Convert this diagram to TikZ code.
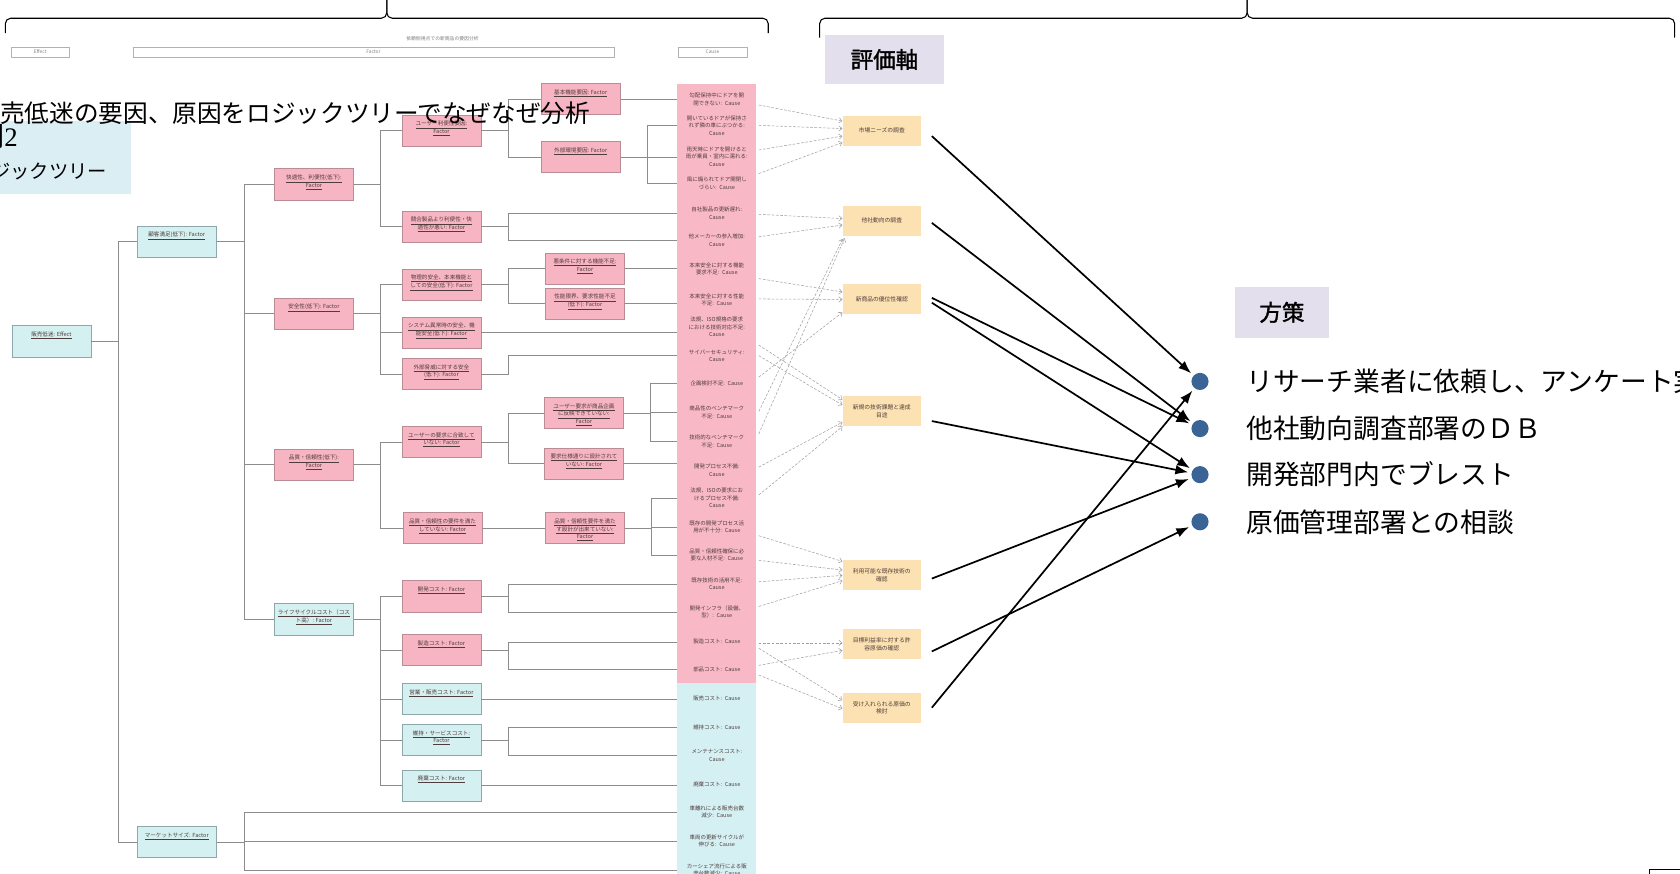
\documentclass[tikz,border=0pt]{standalone}
\usepackage{fontspec}
\setmainfont{Noto Sans CJK JP}
\newfontfamily\numserif{Liberation Serif}
\newfontfamily\tagfont[AutoFakeBold=1.6]{Noto Sans CJK JP}
\usetikzlibrary{arrows.meta,calc}

\definecolor{pinkbox}{RGB}{247,180,194}
\definecolor{pinkedge}{RGB}{185,140,150}
\definecolor{bluebox}{RGB}{212,240,240}
\definecolor{blueedge}{RGB}{140,168,172}
\definecolor{colpink}{RGB}{248,184,198}
\definecolor{colblue}{RGB}{212,240,243}
\definecolor{evalfill}{RGB}{252,226,178}
\definecolor{tagfill}{RGB}{228,223,236}
\definecolor{titlefill}{RGB}{218,238,243}
\definecolor{dotblue}{RGB}{58,100,150}
\definecolor{treeline}{RGB}{140,140,140}
\definecolor{smalltext}{RGB}{80,60,60}

% box text: lines set from the top of the box, underlined
\newcommand{\bxt}[1]{\parbox[c][29pt][t]{72pt}{\centering\fontsize{5.2}{7.2}\selectfont\rule{0pt}{10pt}#1}}
\newcommand{\uln}[1]{\underline{#1}}

\begin{document}
\begin{tikzpicture}[x=1pt,y=-1pt,
  tbox/.style={line width=0.5pt, minimum width=74pt, minimum height=29pt, inner sep=0pt, text=smalltext},
  pbox/.style={tbox, fill=pinkbox, draw=pinkedge},
  bbox/.style={tbox, fill=bluebox, draw=blueedge},
  cause/.style={text width=66pt, inner xsep=4pt, inner ysep=0pt, align=center, text=smalltext, font=\fontsize{5.1}{7}\selectfont},
  evalbox/.style={fill=evalfill, minimum width=73pt, minimum height=28pt, inner sep=1pt, align=center, text=smalltext, font=\fontsize{5.4}{7.2}\selectfont},
  tline/.style={draw=treeline, line width=0.55pt},
  dasharrow/.style={draw=gray!75, line width=0.5pt, dash pattern=on 2.5pt off 1.5pt, -{Straight Barb[length=3pt,width=5pt]}},
  bigarrow/.style={line width=1.6pt, -{Latex[length=12pt,width=9pt]}, shorten >=3pt},
  tagbox/.style={fill=tagfill, inner sep=0pt, font=\tagfont\bfseries\fontsize{21}{21}\selectfont},
  dotmark/.style={circle, fill=dotblue, minimum size=16pt, inner sep=0pt},
  itemtext/.style={anchor=west, inner sep=0pt, font=\fontsize{25}{25}\selectfont},
  hdrbox/.style={draw=gray!60, line width=0.4pt, minimum height=9pt, inner sep=0pt, text=gray, font=\fontsize{4.5}{4.5}\selectfont},
  bracestroke/.style={line width=1pt, rounded corners=5pt}
]
\useasboundingbox (0,0) rectangle (1568,815);
\begin{scope}
\clip (0,0) rectangle (1568,815);

% ---------- braces ----------
\draw[bracestroke] (5,31) -- (5,17) -- (361,17) -- (361,-3);
\draw[bracestroke] (717,31) -- (717,17) -- (361,17) -- (361,-3);
\draw[bracestroke] (765,35) -- (765,17) -- (1164,17) -- (1164,-3);
\draw[bracestroke] (1563,35) -- (1563,17) -- (1164,17) -- (1164,-3);

% ---------- header of the tree ----------
\node[font=\fontsize{4.5}{4.5}\selectfont, text=gray] (hdr) at (413,36) {依頼側視点での新商品の要因分析};
\node[hdrbox, minimum width=55pt] (hE) at (37.5,48.5) {Effect};
\node[hdrbox, minimum width=449pt] (hF) at (348.5,48.5) {Factor};
\node[hdrbox, minimum width=64pt] (hC) at (665,48.5) {Cause};

% ---------- cause column ----------
\fill[colpink] (632,78) rectangle (706,637);
\fill[colblue] (632,637) rectangle (706,830);

\node[cause] (c1) at (669,93) {勾配保持中にドアを開\\閉できない: Cause};
\node[cause] (c2) at (669,117) {開いているドアが保持さ\\れず隣の車にぶつかる:\\Cause};
\node[cause] (c3) at (669,146) {雨天時にドアを開けると\\雨が乗員・室内に濡れる:\\Cause};
\node[cause] (c4) at (669,171) {風に煽られてドア開閉し\\づらい: Cause};
\node[cause] (c5) at (669,199) {自社製品の更新遅れ:\\Cause};
\node[cause] (c6) at (669,224) {他メーカーの参入増加:\\Cause};
\node[cause] (c7) at (669,251) {本来安全に対する機能\\要求不足: Cause};
\node[cause] (c8) at (669,280) {本来安全に対する性能\\不足: Cause};
\node[cause] (c9) at (669,305) {法規、ISO規格の要求\\における技術対応不足:\\Cause};
\node[cause] (c10) at (669,332) {サイバーセキュリティ:\\Cause};
\node[cause] (c11) at (669,358) {企画検討不足: Cause};
\node[cause] (c12) at (669,385) {商品性のベンチマーク\\不足: Cause};
\node[cause] (c13) at (669,412) {技術的なベンチマーク\\不足: Cause};
\node[cause] (c14) at (669,439) {開発プロセス不備:\\Cause};
\node[cause] (c15) at (669,465) {法規、ISOの要求にお\\けるプロセス不備:\\Cause};
\node[cause] (c16) at (669,492) {既存の開発プロセス活\\用が不十分: Cause};
\node[cause] (c17) at (669,518) {品質・信頼性確保に必\\要な人材不足: Cause};
\node[cause] (c18) at (669,545) {既存技術の活用不足:\\Cause};
\node[cause] (c19) at (669,571) {開発インフラ（設備、\\型）: Cause};
\node[cause] (c20) at (669,599) {製造コスト: Cause};
\node[cause] (c21) at (669,625) {部品コスト: Cause};
\node[cause] (c22) at (669,652) {販売コスト: Cause};
\node[cause] (c23) at (669,679) {維持コスト: Cause};
\node[cause] (c24) at (669,705) {メンテナンスコスト:\\Cause};
\node[cause] (c25) at (669,732) {廃棄コスト: Cause};
\node[cause] (c26) at (669,758) {車離れによる販売台数\\減少: Cause};
\node[cause] (c27) at (669,785) {車両の更新サイクルが\\伸びる: Cause};
\node[cause] (c28) at (669,812) {カーシェア流行による販\\売台数減少: Cause};

% ---------- logic tree ----------
\node[bbox] (e0) at (48,318.5) {\bxt{\uln{販売低迷: Effect}}};
\node[bbox] (f1) at (165,225.5) {\bxt{\uln{顧客満足(低下): Factor}}};
\node[bbox] (f2) at (165,786) {\bxt{\uln{マーケットサイズ: Factor}}};

\node[pbox] (g1) at (293,172) {\bxt{\uln{快適性、利便性(低下):}\\\uln{Factor}}};
\node[pbox] (g2) at (293,292.5) {\bxt{\uln{安全性(低下): Factor}}};
\node[pbox] (g3) at (293,433.5) {\bxt{\uln{品質・信頼性(低下):}\\\uln{Factor}}};
\node[bbox] (g4) at (293,578) {\bxt{\uln{ライフサイクルコスト（コス}\\\uln{ト高）: Factor}}};

\node[pbox] (h1) at (412,122) {\bxt{\uln{ユーザー利便性要因:}\\\uln{Factor}}};
\node[pbox] (h2) at (412,211.5) {\bxt{\uln{競合製品より利便性・快}\\\uln{適性が悪い: Factor}}};
\node[pbox] (h3) at (412,265.5) {\bxt{\uln{物理的安全、本来機能と}\\\uln{しての安全(低下): Factor}}};
\node[pbox] (h4) at (412,310.5) {\bxt{\uln{システム異常時の安全、機}\\\uln{能安全(低下): Factor}}};
\node[pbox] (h5) at (412,349) {\bxt{\uln{外部脅威に対する安全}\\\uln{(低下): Factor}}};
\node[pbox] (h6) at (412,412.5) {\bxt{\uln{ユーザーの要求に合致して}\\\uln{いない: Factor}}};
\node[pbox] (h7) at (413,493) {\bxt{\uln{品質・信頼性の要件を満た}\\\uln{していない: Factor}}};
\node[pbox] (h8) at (412,556.5) {\bxt{\uln{開発コスト: Factor}}};
\node[pbox] (h9) at (412,606.5) {\bxt{\uln{製造コスト: Factor}}};
\node[bbox] (h10) at (412,652.5) {\bxt{\uln{営業・販売コスト: Factor}}};
\node[bbox] (h11) at (412,690.5) {\bxt{\uln{維持・サービスコスト:}\\\uln{Factor}}};
\node[bbox] (h12) at (412,733) {\bxt{\uln{廃棄コスト: Factor}}};

\node[pbox] (k1) at (542,92.5) {\bxt{\uln{基本機能要因: Factor}}};
\node[pbox] (k2) at (542,146.5) {\bxt{\uln{外部環境要因: Factor}}};
\node[pbox] (k3) at (546,250.5) {\bxt{\uln{悪条件に対する機能不足:}\\\uln{Factor}}};
\node[pbox] (k4) at (546,283.5) {\bxt{\uln{性能限界、要求性能不足}\\\uln{(低下): Factor}}};
\node[pbox] (k5) at (545,385.5) {\bxt{\uln{ユーザー要求が商品企画}\\\uln{に反映できていない:}\\\uln{Factor}}};
\node[pbox] (k6) at (545,432.5) {\bxt{\uln{要求仕様通りに設計されて}\\\uln{いない: Factor}}};
\node[pbox] (k7) at (546,493) {\bxt{\uln{品質・信頼性要件を満た}\\\uln{す設計が出来ていない:}\\\uln{Factor}}};

% tree connectors
\foreach \p/\c/\d in {e0/f1/25, e0/f2/25,
    f1/g1/26, f1/g2/26, f1/g3/26, f1/g4/26,
    g1/h1/25, g1/h2/25, g2/h3/25, g2/h4/25, g2/h5/25,
    g3/h6/25, g3/h7/25,
    g4/h8/25, g4/h9/25, g4/h10/25, g4/h11/25, g4/h12/25,
    h1/k1/25, h1/k2/25, h3/k3/25, h3/k4/25, h6/k5/25, h6/k6/25,
    k2/c2/25, k2/c4/25, h2/c5/25, h2/c6/25, h5/c10/25,
    k5/c11/25, k5/c12/25, k5/c13/25,
    k7/c15/25, k7/c16/25, k7/c17/25,
    h8/c18/25, h8/c19/25, h9/c20/25, h9/c21/25, h11/c23/25, h11/c24/25,
    f2/c26/26, f2/c27/26, f2/c28/26}
  \draw[tline] (\p.east) -- ++(\d,0) |- (\c.west);
\foreach \p/\c in {h7/k7, k1/c1, k2/c3, k3/c7, k4/c8, h4/c9, k6/c14, h10/c22, h12/c25}
  \draw[tline] (\p.east) -- (\p.east -| \c.west);

% ---------- title ----------
\fill[titlefill] (0,113) rectangle (122,181);
\node[anchor=east, inner sep=0pt, font=\fontsize{23}{23}\selectfont] (title) at (551,106) {販売低迷の要因、原因をロジックツリーでなぜなぜ分析};
\node[anchor=base west, inner sep=0pt, font=\fontsize{25}{25}\selectfont] (fig) at (-21,137) {例{\numserif 2}};
\node[anchor=east, inner sep=0pt, font=\fontsize{18}{18}\selectfont] (sub) at (100,160) {ロジックツリー};

% ---------- evaluation axes ----------
\node[tagbox, minimum width=111pt, minimum height=45pt] (axis) at (825.5,55.5) {評価軸};
\node[evalbox] (yA) at (823,122) {市場ニーズの調査};
\node[evalbox] (yB) at (823,206) {他社動向の調査};
\node[evalbox] (yC) at (823,279.5) {新商品の優位性確認};
\node[evalbox] (yD) at (823,384) {新規の技術課題と達成\\目途};
\node[evalbox] (yE) at (823,537) {利用可能な既存技術の\\確認};
\node[evalbox] (yF) at (823,601) {目標利益率に対する許\\容原価の確認};
\node[evalbox] (yG) at (823,660.5) {受け入れられる原価の\\検討};

\draw[dasharrow] ($(c1.east)+(2,5)$) -- ($(yA.west)+(0,-9)$);
\draw[dasharrow] ($(c2.east)+(2,0)$) -- ($(yA.west)+(0,-2)$);
\draw[dasharrow] ($(c3.east)+(2,-6)$) -- ($(yA.west)+(0,5)$);
\draw[dasharrow] ($(c4.east)+(2,-9)$) -- ($(yA.west)+(0,11)$);
\draw[dasharrow] ($(c5.east)+(2,1)$) -- ($(yB.west)+(0,-2)$);
\draw[dasharrow] ($(c6.east)+(2,-3)$) -- ($(yB.west)+(0,4)$);
\draw[dasharrow] ($(c12.east)+(2,-1)$) -- ($(yB.south west)+(0,3)$);
\draw[dasharrow] ($(c13.east)+(2,-7)$) -- ($(yB.south west)+(2,2)$);
\draw[dasharrow] ($(c7.east)+(2,9)$) -- ($(yC.west)+(0,-7)$);
\draw[dasharrow] ($(c8.east)+(2,-1)$) -- ($(yC.west)+(0,0)$);
\draw[dasharrow] ($(c11.east)+(2,-6)$) -- ($(yC.west)+(0,12)$);
\draw[dasharrow] ($(c10.east)+(2,-10)$) -- ($(yD.west)+(0,-11)$);
\draw[dasharrow] ($(c10.east)+(2,0)$) -- ($(yD.west)+(0,-6)$);
\draw[dasharrow] ($(c14.east)+(2,-3)$) -- ($(yD.west)+(0,10)$);
\draw[dasharrow] ($(c15.east)+(2,-3)$) -- ($(yD.west)+(0,14)$);
\draw[dasharrow] ($(c16.east)+(2,8)$) -- ($(yE.west)+(0,-13)$);
\draw[dasharrow] ($(c17.east)+(2,5)$) -- ($(yE.west)+(0,-5)$);
\draw[dasharrow] ($(c18.east)+(2,-2)$) -- ($(yE.west)+(0,0)$);
\draw[dasharrow] ($(c19.east)+(2,-5)$) -- ($(yE.west)+(0,5)$);
\draw[dasharrow] ($(c20.east)+(2,1)$) -- ($(yF.west)+(0,-1)$);
\draw[dasharrow] ($(c21.east)+(2,-4)$) -- ($(yF.west)+(0,6)$);
\draw[dasharrow] ($(c20.east)+(2,6)$) -- ($(yG.west)+(0,-7)$);
\draw[dasharrow] ($(c21.east)+(2,5)$) -- ($(yG.west)+(0,1)$);

% ---------- measures ----------
\node[tagbox, minimum width=87pt, minimum height=48pt] (plan) at (1196.5,291.5) {方策};
\node[dotmark] (d1) at (1120,356) {};
\node[dotmark] (d2) at (1120,400) {};
\node[dotmark] (d3) at (1120,443) {};
\node[dotmark] (d4) at (1120,487) {};
\node[itemtext] (t1) at (1163,356) {リサーチ業者に依頼し、アンケート実};
\node[itemtext] (t2) at (1163,400) {他社動向調査部署のＤＢ};
\node[itemtext] (t3) at (1163,443) {開発部門内でブレスト};
\node[itemtext] (t4) at (1163,487) {原価管理部署との相談};

\draw[bigarrow] ($(yA.east)+(10,5)$) -- (d1);
\draw[bigarrow] ($(yG.east)+(10,0)$) -- (d1);
\draw[bigarrow] ($(yB.east)+(10,2)$) -- (d2);
\draw[bigarrow] ($(yC.east)+(10,-1.5)$) -- (d2);
\draw[bigarrow] ($(yC.east)+(10,3)$) -- (d3);
\draw[bigarrow] ($(yD.east)+(10,9)$) -- (d3);
\draw[bigarrow] ($(yE.east)+(10,3)$) -- (d3);
\draw[bigarrow] ($(yF.east)+(10,7)$) -- (d4);

% frame corner at the lower right
\draw[line width=0.8pt] (1539,811) rectangle (1600,850);
\end{scope}
\end{tikzpicture}
\end{document}
